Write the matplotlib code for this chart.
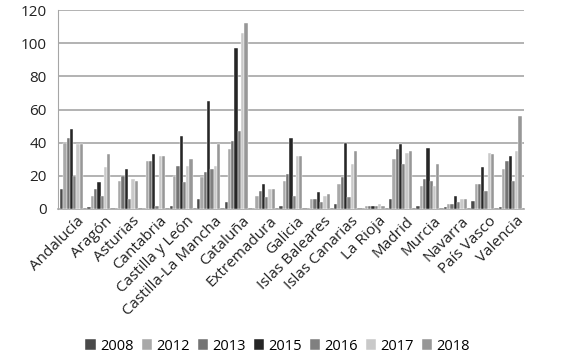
import numpy as np
import matplotlib
matplotlib.use("Agg")
import matplotlib.pyplot as plt

regions = ["Andalucía", "Aragón", "Asturias", "Cantabria", "Castilla y León",
           "Castilla-La Mancha", "Cataluña", "Extremadura", "Galicia",
           "Islas Baleares", "Islas Canarias", "La Rioja", "Madrid", "Murcia",
           "Navarra", "País Vasco", "Valencia"]
years = ["2008", "2012", "2013", "2015", "2016", "2017", "2018"]

v2008 = [12, 1, 0, 0, 2, 6, 4, 0, 2, 0, 3, 0, 6, 2, 1, 5, 1]
v2012 = [40, 8, 17, 29, 20, 19, 36, 8, 17, 6, 15, 2, 30, 14, 3, 15, 24]
v2013 = [43, 12, 20, 29, 26, 22, 41, 11, 21, 6, 19, 2, 36, 18, 3, 15, 29]
v2015 = [48, 16, 24, 33, 44, 65, 97, 15, 43, 10, 40, 2, 39, 37, 8, 25, 32]
v2016 = [20, 8, 6, 2, 16, 24, 47, 7, 8, 4, 7, 2, 27, 17, 4, 11, 17]
v2017 = [39, 25, 18, 32, 26, 26, 106, 12, 32, 8, 27, 3, 34, 14, 6, 34, 35]
v2018 = [39, 33, 17, 32, 30, 39, 112, 12, 32, 9, 35, 2, 35, 27, 6, 33, 56]

series = [v2008, v2012, v2013, v2015, v2016, v2017, v2018]
colors = ["#4a4a4a", "#a8a8a8", "#747474", "#262626", "#808080", "#c9c9c9", "#979797"]

fig = plt.figure(figsize=(5.67, 3.62), dpi=100)
ax = fig.add_axes([0.102, 0.423, 0.822, 0.549])

x = np.arange(len(regions))
w = 0.12
for i, (vals, c) in enumerate(zip(series, colors)):
    ax.bar(x + (i - 3) * w, vals, width=w, color=c, edgecolor="white",
           linewidth=0.3, label=years[i], zorder=3)

ax.set_xlim(-0.5, len(regions) - 0.5)
ax.set_ylim(0, 120)
ax.set_yticks(range(0, 121, 20))
ax.yaxis.grid(True, color="#a6a6a6", linewidth=1.2, zorder=0)
ax.set_axisbelow(True)
for s in ["top", "right"]:
    ax.spines[s].set_visible(False)
ax.spines["left"].set_color("#a6a6a6")
ax.spines["bottom"].set_color("#a6a6a6")
ax.spines["bottom"].set_linewidth(1.2)
ax.tick_params(axis="both", length=0, colors="#222222")
ax.tick_params(axis="y", pad=8, labelsize=11)
ax.set_xticks(x + 0.2)
ax.set_xticklabels(regions, rotation=45, ha="right", rotation_mode="anchor",
                   fontsize=11, family="Open Sans")
for t in ax.get_yticklabels():
    t.set_family("Open Sans")

fig.legend(loc="center", bbox_to_anchor=(0.49, 0.044), ncol=7, frameon=False,
           handlelength=0.7, handleheight=0.7, handletextpad=0.3,
           columnspacing=0.55, prop={"family": "Open Sans", "size": 10.5})

fig.savefig("out.png", dpi=100)
